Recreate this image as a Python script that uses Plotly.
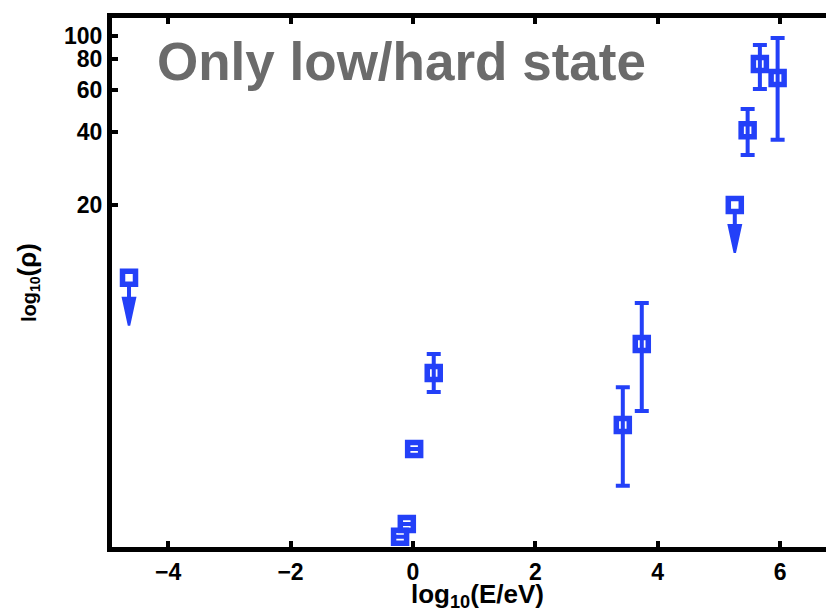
import numpy as np
import plotly.graph_objects as go

# Measured points: log10 photon energy, rho value and its error range
log_e = [0.34, 0.02, -0.10, -0.21, 3.43, 3.74, 5.47, 5.67, 5.96]
rho = [4.04, 1.96, 0.96, 0.85, 2.46, 5.32, 40.8, 76.6, 67.0]
rho_hi = [4.84, 1.96, 0.96, 0.85, 3.53, 7.87, 49.9, 91.8, 98.1]
rho_lo = [3.37, 1.96, 0.96, 0.85, 1.38, 2.81, 32.2, 60.4, 37.2]

# Upper limits
lim_log_e = [-4.64, 5.26]
lim_rho = [10.0, 20.0]

x_ticks = [-4, -2, 0, 2, 4, 6]
y_ticks = [20, 40, 60, 80, 100]

BLUE = "#2340f8"
FONT = "Liberation Sans, Arial, sans-serif"

W, H = 831, 613
M_L, M_R, M_T, M_B = 112, 20, 18, 66
PLOT_W = W - M_L - M_R
PLOT_H = H - M_T - M_B
PX_PER_UNIT = 61.19
X_MIN = -4.918
X_MAX = X_MIN + PLOT_W / PX_PER_UNIT
FRAME_W = 5

rho_a = np.array(rho)
plus = np.array(rho_hi) - rho_a
minus = rho_a - np.array(rho_lo)

square = dict(symbol="square-open", size=13, color=BLUE,
              line=dict(width=5.5, color=BLUE))

fig = go.Figure()

fig.add_trace(go.Scatter(
    x=log_e, y=rho, mode="markers", marker=square,
    error_y=dict(type="data", symmetric=False, array=plus, arrayminus=minus,
                 color=BLUE, thickness=4, width=7),
    showlegend=False,
))

fig.add_trace(go.Scatter(
    x=lim_log_e, y=lim_rho, mode="markers", marker=square,
    showlegend=False,
))

# Downward arrow below each upper limit (path in pixels around the point)
arrow_path = ("M-2,-9 L2,-9 L2,-19 L7.5,-19 L1.2,-48 L-1.2,-48 "
              "L-7.5,-19 L-2,-19 Z")
for xv, yv in zip(lim_log_e, lim_rho):
    fig.add_shape(
        type="path", path=arrow_path,
        xref="x", yref="y", xsizemode="pixel", ysizemode="pixel",
        xanchor=xv, yanchor=yv,
        fillcolor=BLUE, line=dict(width=0), layer="above",
    )

# Top and bottom frame lines carry on past the plot area to the right
for yp, shift in ((0, -FRAME_W / 2), (1, FRAME_W / 2)):
    fig.add_shape(
        type="line", xref="paper", yref="paper",
        x0=0.98, x1=1 + (M_R - 5) / PLOT_W,
        ysizemode="pixel", yanchor=yp, y0=shift, y1=shift,
        line=dict(color="black", width=FRAME_W), layer="above",
    )

fig.add_annotation(
    text="<b>Only low/hard state</b>", xref="paper", yref="paper",
    x=(155 - M_L) / PLOT_W, y=0.917, xanchor="left", yanchor="middle",
    showarrow=False, font=dict(family=FONT, size=53, color="#6b6b6b"),
)

fig.add_annotation(
    text="<b>log<sub>10</sub>(E/eV)</b>", xref="paper", yref="paper",
    x=(477 - M_L) / PLOT_W, y=-(595 - 547) / PLOT_H, xanchor="center",
    yanchor="middle", showarrow=False,
    font=dict(family=FONT, size=26, color="black"),
)

fig.add_annotation(
    text="<b>log<sub>10</sub><span style='font-size:26px'>(ρ)</span></b>",
    xref="paper", yref="paper",
    x=-(M_L - 27) / PLOT_W, y=(547 - 283) / PLOT_H, xanchor="center",
    yanchor="middle", textangle=-90, showarrow=False,
    font=dict(family=FONT, size=20, color="black"),
)

fig.update_layout(
    width=W, height=H,
    margin=dict(l=M_L, r=M_R, t=M_T, b=M_B),
    paper_bgcolor="white", plot_bgcolor="white",
    font=dict(family=FONT, color="black"),
    xaxis=dict(
        range=[X_MIN, X_MAX], tickvals=x_ticks,
        showgrid=False, zeroline=False,
        showline=True, linecolor="black", linewidth=FRAME_W, mirror="ticks",
        ticks="inside", ticklen=6, tickwidth=4, tickcolor="black",
        tickfont=dict(family=FONT, size=23, color="black", weight="bold"),
    ),
    yaxis=dict(
        type="log", range=[-0.1133, 2.0744], tickvals=y_ticks,
        ticktext=[str(v) for v in y_ticks],
        showgrid=False, zeroline=False,
        showline=True, linecolor="black", linewidth=FRAME_W, mirror=False,
        ticks="inside", ticklen=6, tickwidth=4, tickcolor="black",
        tickfont=dict(family=FONT, size=23, color="black", weight="bold"),
    ),
)

fig.write_html("out.html")
